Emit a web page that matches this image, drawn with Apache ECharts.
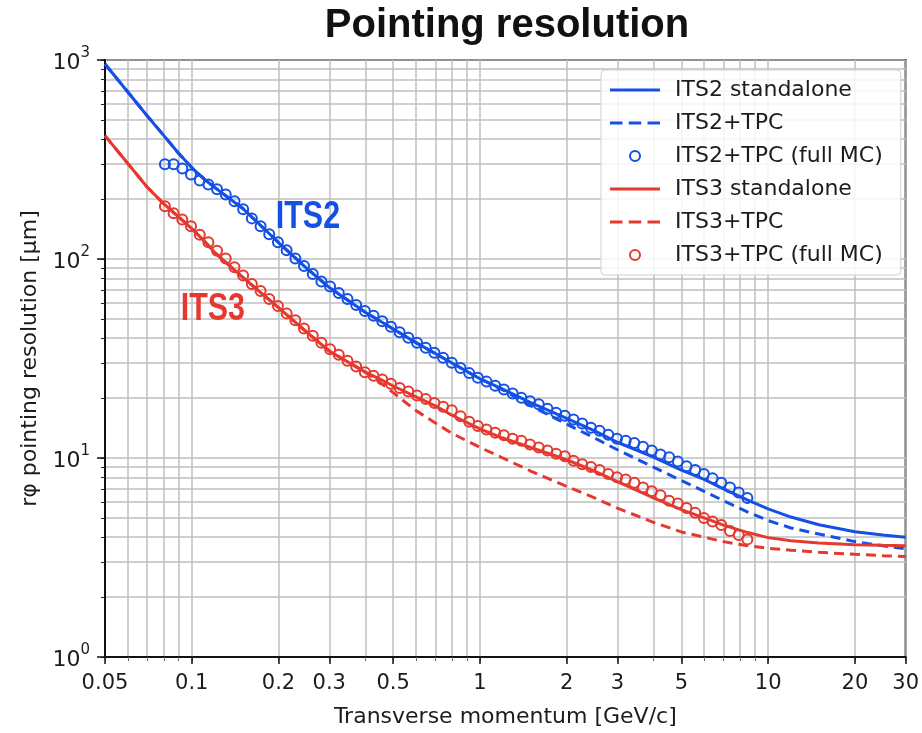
<!DOCTYPE html>
<html>
<head>
<meta charset="utf-8">
<script src="https://cdn.jsdelivr.net/npm/echarts@6/dist/echarts.min.js"></script>
<style>
  html, body { margin: 0; padding: 0; background: #fff; }
  #chart { width: 922px; height: 733px; }
</style>
</head>
<body>
<div id="chart"></div>
<script>
// pT points of the full MC circles (same for both detectors)
const mcPt = [0.0807, 0.0865, 0.0927, 0.0994, 0.1066, 0.1142, 0.1224, 0.1312, 0.1407, 0.1508,
  0.1616, 0.1733, 0.1857, 0.1991, 0.2134, 0.2288, 0.2452, 0.2629, 0.2818, 0.3020,
  0.3237, 0.3470, 0.3720, 0.3988, 0.4274, 0.4582, 0.4911, 0.5265, 0.5643, 0.6049,
  0.6484, 0.6950, 0.7450, 0.7986, 0.8560, 0.9176, 0.9836, 1.054, 1.130, 1.211,
  1.299, 1.392, 1.492, 1.600, 1.715, 1.838, 1.970, 2.112, 2.264, 2.427,
  2.601, 2.788, 2.989, 3.204, 3.434, 3.681, 3.946, 4.230, 4.534, 4.860,
  5.210, 5.584, 5.986, 6.416, 6.878, 7.372, 7.903, 8.471]
const its2FullMC = [299, 299, 285, 266, 248, 237, 224, 211, 195, 178,
  160, 146, 133, 121.5, 110.8, 100.5, 92.1, 84.0, 77.1, 72.7,
  67.5, 63.0, 58.8, 54.8, 51.8, 48.6, 45.6, 42.8, 40.2, 37.9,
  35.8, 33.8, 31.9, 30.1, 28.3, 26.7, 25.3, 24.2, 23.1, 22.1,
  21.1, 20.1, 19.3, 18.6, 17.7, 16.9, 16.3, 15.6, 14.9, 14.2,
  13.7, 13.1, 12.5, 12.2, 11.9, 11.4, 10.9, 10.4, 10.1, 9.6,
  9.1, 8.7, 8.3, 7.9, 7.5, 7.1, 6.7, 6.3]
const its3FullMC = [184, 170, 158, 146, 132.5, 121.5, 110, 100.5, 91, 82.6,
  74.9, 69.1, 63.0, 58.1, 53.3, 49.2, 44.8, 41.1, 37.9, 35.2,
  33.0, 30.8, 28.8, 27.0, 25.9, 24.8, 23.6, 22.5, 21.6, 20.6,
  19.8, 18.9, 18.1, 17.4, 16.2, 15.2, 14.5, 13.9, 13.4, 13.0,
  12.5, 12.2, 11.7, 11.3, 10.9, 10.5, 10.2, 9.7, 9.3, 9.0,
  8.7, 8.3, 8.0, 7.8, 7.5, 7.1, 6.8, 6.5, 6.1, 5.9,
  5.6, 5.3, 5.0, 4.8, 4.6, 4.3, 4.1, 3.9]

// pT points of the analytic curves
const linePt = [0.05, 0.06, 0.07, 0.08, 0.09, 0.1, 0.11, 0.12, 0.15, 0.2, 0.25, 0.3, 0.4, 0.45, 0.5,
  0.6, 0.7, 0.8, 1, 1.2, 1.5, 2, 2.5, 3, 4, 5, 6, 7, 8.5, 10, 12, 15, 20, 25, 30]
const its2Standalone = [955, 691, 525, 417, 340, 288, 253, 229, 180, 121, 90, 72, 54, 48.8, 44.5,
  38.0, 33.5, 30.0, 25.0, 22.2, 19.0, 15.8, 13.7, 12.0, 10.1, 8.7, 7.8, 7.0, 6.15, 5.55, 5.05, 4.62, 4.26, 4.1, 4.0]
const its2Tpc = [955, 691, 525, 417, 340, 288, 253, 229, 180, 121, 90, 72, 54, 48.8, 44.5,
  38.0, 33.5, 30.0, 25.0, 22.0, 18.3, 14.8, 12.6, 11.0, 9.0, 7.7, 6.8, 6.1, 5.35, 4.85, 4.45, 4.15, 3.8, 3.62, 3.5]
const its3Standalone = [417, 302, 230, 189, 163, 142, 124, 108, 81, 57, 43, 34.5, 27, 24.9, 23,
  20.3, 18.3, 16.4, 14.0, 12.6, 11.3, 9.8, 8.6, 7.6, 6.3, 5.5, 5.0, 4.6, 4.22, 3.98, 3.84, 3.74, 3.67, 3.64, 3.62]
const its3Tpc = [417, 302, 230, 189, 163, 142, 124, 108, 81, 57, 43, 34.5, 27, 24.0, 21.3,
  17.3, 15.0, 13.3, 11.3, 10.0, 8.6, 7.2, 6.3, 5.6, 4.75, 4.25, 4.0, 3.8, 3.62, 3.52, 3.44, 3.36, 3.28, 3.23, 3.2]

// axes
const xGridVals = [0.05, 0.06, 0.07, 0.08, 0.09, 0.1, 0.2, 0.3, 0.4, 0.5, 0.6, 0.7, 0.8, 0.9,
  1, 2, 3, 4, 5, 6, 7, 8, 9, 10, 20, 30]
const xTickLabels = [0.05, 0.1, 0.2, 0.3, 0.5, 1, 2, 3, 5, 10, 20, 30]
const yGridVals = [1, 2, 3, 4, 5, 6, 7, 8, 9, 10, 20, 30, 40, 50, 60, 70, 80, 90,
  100, 200, 300, 400, 500, 600, 700, 800, 900, 1000]
const yTickLabels = [1, 10, 100, 1000]

// text annotations (data coords)
const its2LabelAt = [0.253, 162]
const its3LabelAt = [0.1184, 56]

const BLUE = '#1450e6'
const RED = '#e5392f'
const TEXT = '#1c1c1c'
const FONT = 'DejaVu Sans'

// legend icons: solid and dashed strokes
const SOLID_ICON = 'path://M0,0H48V3H0Z'
const DASH_ICON = 'path://M0,0H12V3H0ZM18,0H30V3H18ZM36,0H48V3H36Z'

const pairs = (xs, ys) => xs.map((x, i) => [x, ys[i]])

const chart = echarts.init(document.getElementById('chart'))

const gridLine = { show: true, lineStyle: { color: '#bfbfbf', width: 1.5 } }

chart.setOption({
  animation: false,
  backgroundColor: '#fff',
  title: {
    text: 'Pointing resolution',
    left: 502,
    textAlign: 'center',
    top: 1,
    textStyle: { fontFamily: 'Liberation Sans', fontWeight: 'bold', fontSize: 40, color: '#111' },
  },
  grid: {
    left: 105, right: 15, top: 60, bottom: 75,
    show: true, borderColor: '#111', borderWidth: 2, backgroundColor: 'transparent',
  },
  legend: {
    orient: 'vertical',
    left: 601,
    top: 70,
    padding: [9, 18, 9, 9],
    itemWidth: 50,
    itemHeight: 10,
    itemGap: 11,
    backgroundColor: 'rgba(255,255,255,0.85)',
    borderColor: '#d0d0d0',
    borderWidth: 1,
    borderRadius: 4,
    textStyle: { fontFamily: FONT, fontSize: 22, color: TEXT, lineHeight: 21, padding: [0, 0, 0, 10] },
    data: [
      { name: 'ITS2 standalone', icon: SOLID_ICON },
      { name: 'ITS2+TPC', icon: DASH_ICON },
      { name: 'ITS2+TPC (full MC)' },
      { name: 'ITS3 standalone', icon: SOLID_ICON },
      { name: 'ITS3+TPC', icon: DASH_ICON },
      { name: 'ITS3+TPC (full MC)' },
    ],
  },
  xAxis: [
    {
      type: 'log', logBase: 10, min: 0.05, max: 30,
      axisLine: { show: true, lineStyle: { color: '#111', width: 2 } },
      axisTick: { show: true, customValues: xGridVals, length: 4, lineStyle: { color: '#666', width: 1 } },
      axisLabel: { show: false },
      splitLine: gridLine,
    },
    {
      type: 'log', logBase: 10, min: 0.05, max: 30, position: 'bottom',
      axisLine: { show: false },
      axisTick: { show: true, customValues: xTickLabels, length: 7, lineStyle: { color: '#111', width: 1.5 } },
      axisLabel: {
        show: true, customValues: xTickLabels, margin: 16,
        fontFamily: FONT, fontSize: 21, color: TEXT,
        formatter: v => String(+v.toPrecision(3)),
      },
      splitLine: { show: false },
      name: 'Transverse momentum [GeV/c]',
      nameLocation: 'middle',
      nameGap: 49,
      nameTextStyle: { fontFamily: FONT, fontSize: 22, color: TEXT },
    },
  ],
  yAxis: [
    {
      type: 'log', logBase: 10, min: 1, max: 1000,
      axisLine: { show: true, lineStyle: { color: '#111', width: 2 } },
      axisTick: { show: true, customValues: yGridVals, length: 4, lineStyle: { color: '#222', width: 1 } },
      axisLabel: { show: false },
      splitLine: gridLine,
    },
    {
      type: 'log', logBase: 10, min: 1, max: 1000, position: 'left',
      axisLine: { show: false },
      axisTick: { show: true, customValues: yTickLabels, length: 8, lineStyle: { color: '#111', width: 1.5 } },
      axisLabel: {
        show: true, customValues: yTickLabels, margin: 15,
        formatter: v => '{b|10}{e|' + Math.round(Math.log10(v)) + '}',
        rich: {
          b: { fontFamily: FONT, fontSize: 22, color: TEXT, lineHeight: 28, verticalAlign: 'bottom' },
          e: { fontFamily: FONT, fontSize: 15, color: TEXT, lineHeight: 14, verticalAlign: 'top' },
        },
      },
      splitLine: { show: false },
      name: 'rφ pointing resolution [μm]',
      nameLocation: 'middle',
      nameGap: 60,
      nameTextStyle: { fontFamily: FONT, fontSize: 22, color: TEXT },
    },
  ],
  series: [
    {
      name: 'ITS2 standalone', type: 'line', symbol: 'none',
      data: pairs(linePt, its2Standalone),
      lineStyle: { color: BLUE, width: 3 }, itemStyle: { color: BLUE }, z: 3,
    },
    {
      name: 'ITS2+TPC', type: 'line', symbol: 'none',
      data: pairs(linePt, its2Tpc),
      lineStyle: { color: BLUE, width: 3, type: [10, 6] }, itemStyle: { color: BLUE }, z: 2,
    },
    {
      name: 'ITS2+TPC (full MC)', type: 'scatter', symbol: 'circle', symbolSize: 10,
      data: pairs(mcPt, its2FullMC),
      itemStyle: { color: 'rgba(255,255,255,0)', borderColor: BLUE, borderWidth: 2, opacity: 1 }, z: 5,
    },
    {
      name: 'ITS3 standalone', type: 'line', symbol: 'none',
      data: pairs(linePt, its3Standalone),
      lineStyle: { color: RED, width: 3 }, itemStyle: { color: RED }, z: 3,
    },
    {
      name: 'ITS3+TPC', type: 'line', symbol: 'none',
      data: pairs(linePt, its3Tpc),
      lineStyle: { color: RED, width: 3, type: [10, 6] }, itemStyle: { color: RED }, z: 2,
    },
    {
      name: 'ITS3+TPC (full MC)', type: 'scatter', symbol: 'circle', symbolSize: 10,
      data: pairs(mcPt, its3FullMC),
      itemStyle: { color: 'rgba(255,255,255,0)', borderColor: RED, borderWidth: 2, opacity: 1 }, z: 5,
    },
  ],
})

// condensed bold tags placed at data coordinates
function tag(text, at, color) {
  const [x, y] = chart.convertToPixel({ xAxisIndex: 0, yAxisIndex: 0 }, at)
  return {
    type: 'text', x, y, scaleX: 0.78, z: 10,
    style: {
      text, fill: color, fontFamily: 'Liberation Sans', fontWeight: 'bold', fontSize: 39,
      align: 'center', verticalAlign: 'middle',
    },
  }
}
chart.setOption({ graphic: [tag('ITS2', its2LabelAt, BLUE), tag('ITS3', its3LabelAt, RED)] })
</script>
</body>
</html>
